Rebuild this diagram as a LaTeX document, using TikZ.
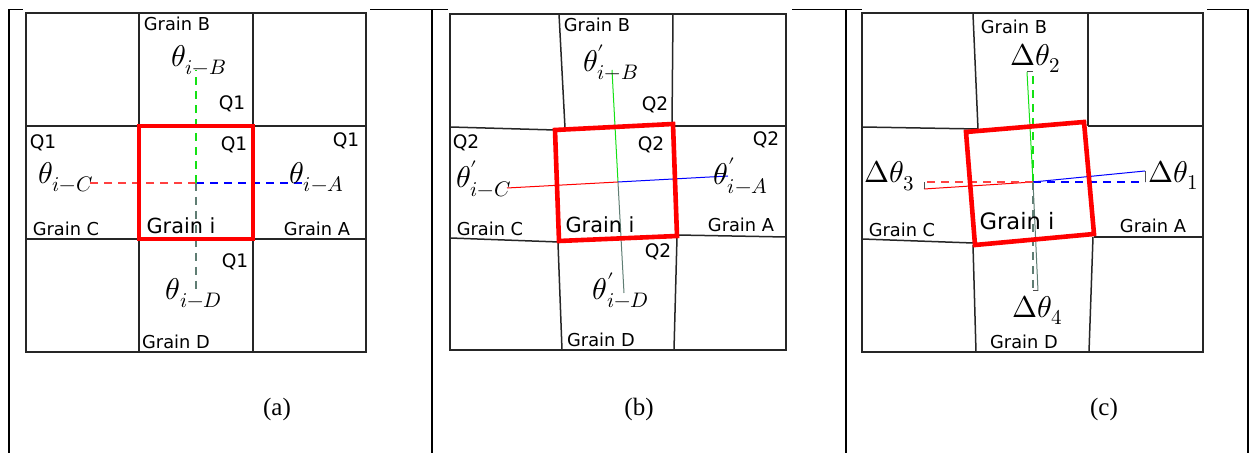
\documentclass[tikz,border=0pt]{standalone}
\usepackage{fontspec}
\usepackage{unicode-math}
\newfontfamily\gfont{DejaVu Sans}
\newfontfamily\cfont{Liberation Serif}
\definecolor{lgreen}{RGB}{20,225,20}
\definecolor{lgray}{RGB}{95,125,115}
\definecolor{lblue}{RGB}{0,0,255}
\begin{document}
\begin{tikzpicture}[x=0.5pt,y=-0.5pt,
  tline/.style={line width=0.55pt, black},
  gline/.style={line width=0.75pt, black!85},
  redsq/.style={line width=2.3pt, red, line join=miter},
  thinl/.style={line width=0.5pt},
  dsh/.style={line width=0.6pt, dash pattern=on 4pt off 3pt},
  cbr/.style={line width=0.5pt, black!70},
  glab/.style={font=\gfont\fontsize{8.9}{10}\selectfont, inner sep=0pt},
  ilab/.style={font=\gfont\fontsize{10.4}{12}\selectfont, inner sep=0pt},
  qlab/.style={font=\gfont\fontsize{9.3}{10}\selectfont, inner sep=0pt},
  mlab/.style={font=\fontsize{15}{17}\selectfont, inner sep=0pt},
  caplab/.style={font=\cfont\fontsize{12.5}{14}\selectfont, inner sep=0pt}]
\useasboundingbox (0,0) rectangle (1260,453);
% table frame
\draw[tline] (9,9.5) -- (1248,9.5);
\foreach \xx in {9,432,846,1248} \draw[tline] (\xx,9.5) -- (\xx,453);
% white figure backgrounds
\fill[white] (23,8) rectangle (370,358);
\fill[white] (448,8) rectangle (792,358);
\fill[white] (862,8) rectangle (1207,358);

%% ---------------- panel (a)
\draw[gline] (26,13) rectangle (366,352);
\draw[gline] (139,13) -- (139,352);
\draw[gline] (253,13) -- (253,352);
\draw[gline] (26,126) -- (366,126);
\draw[gline] (26,239) -- (366,239);
\coordinate (ac) at (196,183);
\coordinate (aB) at (196,70);
\coordinate (aC) at (88,183);
\coordinate (aA) at (305,183);
\coordinate (aD) at (196,292);
\draw[dsh, red!75] (ac) -- (aC);
\draw[dsh, lblue] (ac) -- (aA);
\draw[dsh, lgreen] (ac) -- (aB);
\draw[dsh, lgray] (ac) -- (aD);
\draw[redsq] (139,126) rectangle (253,239);
\node[glab] (aGB) at (177,24) {Grain B};
\node[mlab] (aTB) at (199,60) {$\theta_{i-B}$};
\node[qlab] (aQ1) at (232,104) {Q1};
\node[qlab] (aQ2) at (43,143) {Q1};
\node[qlab] (aQ3) at (234,145) {Q1};
\node[qlab] (aQ4) at (346,141) {Q1};
\node[mlab] (aTC) at (66,177) {$\theta_{i-C}$};
\node[mlab] (aTA) at (317,177) {$\theta_{i-A}$};
\node[glab] (aGC) at (66,229) {Grain C};
\node[ilab] (aGi) at (181,226) {Grain i};
\node[glab] (aGA) at (317,229) {Grain A};
\node[qlab] (aQ5) at (235,262) {Q1};
\node[mlab] (aTD) at (194,293) {$\theta_{i-D}$};
\node[glab] (aGD) at (176,342) {Grain D};
\node[caplab] (acap) at (277,409) {(a)};

%% ---------------- panel (b)
\draw[gline] (450,14) rectangle (786,350);
\draw[gline] (559,14) -- (565,128);
\draw[gline] (673,14) -- (672,124);
\draw[gline] (450,127) -- (555,130);
\draw[gline] (450,238) -- (559,242);
\draw[gline] (673,126) -- (786,126);
\draw[gline] (677,235) -- (786,237);
\draw[gline] (558,243) -- (562,350);
\draw[gline] (677,237) -- (674,350);
\coordinate (bc) at (618,182);
\coordinate (bB) at (612,70);
\coordinate (bA) at (728,176);
\coordinate (bC) at (507,188);
\coordinate (bD) at (624,293);
\draw[thinl, lgreen] (bc) -- (bB);
\draw[thinl, lblue] (bc) -- (bA);
\draw[thinl, red] (bc) -- (bC);
\draw[thinl, lgray] (bc) -- (bD);
\draw[redsq] (555,130) -- (673,124) -- (677,236) -- (559,241) -- cycle;
\node[glab] (bGB) at (597,25) {Grain B};
\node[mlab] (bTB) at (611,62) {$\theta'_{i-B}$};
\node[qlab] (bQ1) at (655,105) {Q2};
\node[qlab] (bQ2) at (466,143) {Q2};
\node[qlab] (bQ3) at (651,145) {Q2};
\node[qlab] (bQ4) at (766,140) {Q2};
\node[mlab] (bTC) at (484,179) {$\theta'_{i-C}$};
\node[mlab] (bTA) at (741,176) {$\theta'_{i-A}$};
\node[glab] (bGC) at (490,229) {Grain C};
\node[ilab] (bGi) at (600,225) {Grain i};
\node[glab] (bGA) at (741,225) {Grain A};
\node[qlab] (bQ5) at (658,252) {Q2};
\node[mlab] (bTD) at (621,290) {$\theta'_{i-D}$};
\node[glab] (bGD) at (601,340) {Grain D};
\node[caplab] (bcap) at (639,409) {(b)};

%% ---------------- panel (c)
\draw[gline] (862,13) rectangle (1203,352);
\draw[gline] (973,14) -- (978,129);
\draw[gline] (1088,14) -- (1088,126);
\draw[gline] (862,127) -- (978,129);
\draw[gline] (862,239) -- (973,243);
\draw[gline] (1088,126) -- (1203,126);
\draw[gline] (1094,237) -- (1203,237);
\draw[gline] (973,245) -- (976,352);
\draw[gline] (1093,237) -- (1089,352);
\coordinate (cc) at (1033,182);
\coordinate (cBs) at (1027,72);
\coordinate (cBd) at (1033,72);
\coordinate (cAs) at (1145,171);
\coordinate (cAd) at (1145,182);
\coordinate (cCs) at (924,189);
\coordinate (cCd) at (924,182);
\coordinate (cDs) at (1038,291);
\coordinate (cDd) at (1033,291);
\draw[thinl, lgreen] (cc) -- (cBs);
\draw[dsh, lgreen] (cc) -- (cBd);
\draw[cbr] (cBs) -- (cBd);
\draw[thinl, lblue] (cc) -- (cAs);
\draw[dsh, lblue] (cc) -- (cAd);
\draw[cbr] (cAs) -- (cAd);
\draw[thinl, red] (cc) -- (cCs);
\draw[dsh, red!75] (cc) -- (cCd);
\draw[cbr] (cCs) -- (cCd);
\draw[thinl, lgray] (cc) -- (cDs);
\draw[dsh, lgray] (cc) -- (cDd);
\draw[cbr] (cDs) -- (cDd);
\draw[redsq] (966,132) -- (1084,122) -- (1094,234) -- (975,245) -- cycle;
\node[glab] (cGB) at (1014,27) {Grain B};
\node[mlab] (cT2) at (1036,58) {$\Delta\theta_{2}$};
\node[mlab] (cT3) at (890,176) {$\Delta\theta_{3}$};
\node[mlab] (cT1) at (1174,175) {$\Delta\theta_{1}$};
\node[glab] (cGC) at (902,230) {Grain C};
\node[font=\gfont\fontsize{11.3}{13}\selectfont, inner sep=0pt] (cGi) at (1017,221) {Grain i};
\node[glab] (cGA) at (1153,226) {Grain A};
\node[mlab] (cT4) at (1038,310) {$\Delta\theta_{4}$};
\node[glab] (cGD) at (1024,342) {Grain D};
\node[caplab] (ccap) at (1104,409) {(c)};
\end{tikzpicture}
\end{document}
